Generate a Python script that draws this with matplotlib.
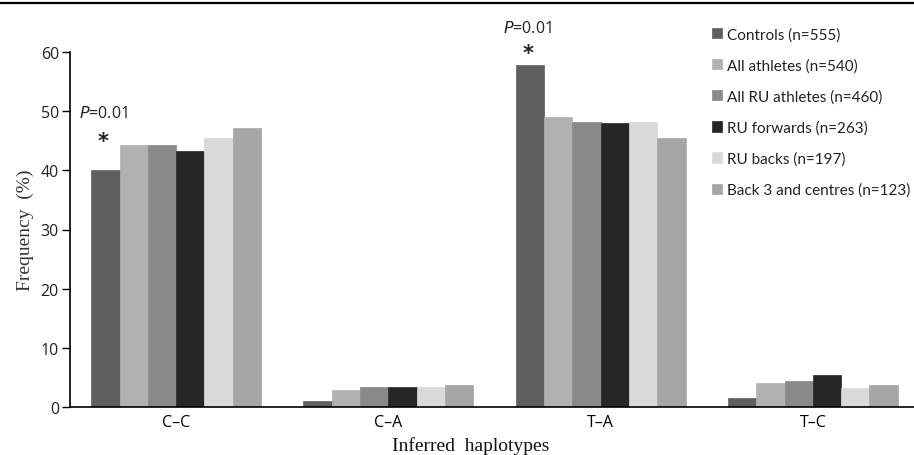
import matplotlib
matplotlib.use("Agg")
import matplotlib.pyplot as plt
import numpy as np
from matplotlib.lines import Line2D

haplotypes = ["C\u2013C", "C\u2013A", "T\u2013A", "T\u2013C"]

groups = [
	"Controls (n=555)",
	"All athletes (n=540)",
	"All RU athletes (n=460)",
	"RU forwards (n=263)",
	"RU backs (n=197)",
	"Back 3 and centres (n=123)",
]

controls = [40.0, 1.0, 57.8, 1.6]
all_athletes = [44.2, 2.95, 48.9, 4.05]
all_ru = [44.2, 3.45, 48.2, 4.45]
ru_forwards = [43.3, 3.45, 47.9, 5.45]
ru_backs = [45.5, 3.4, 48.2, 3.25]
back3_centres = [47.1, 3.7, 45.5, 3.7]

# p-value notes over the Controls bar: haplotype index, star height, text height
p_index = [0, 2]
p_star_y = [45.0, 59.7]
p_text_y = [49.6, 64.0]
p_text = "P=0.01"

colors = ["#5f5f5f", "#b1b1b1", "#898989", "#262626", "#d9d9d9", "#a6a6a6"]

series = [controls, all_athletes, all_ru, ru_forwards, ru_backs, back3_centres]

fig = plt.figure(figsize=(9.14, 4.56), dpi=100)
ax = fig.add_axes([70 / 914, 47.7 / 456, 849 / 914, 355.6 / 456])

x = np.arange(len(haplotypes))
bar_w = 0.8 / len(series)

for i, (vals, col, name) in enumerate(zip(series, colors, groups)):
	offs = (i - (len(series) - 1) / 2) * bar_w
	ax.bar(x + offs, vals, width=bar_w, color=col, label=name,
		edgecolor=col, linewidth=0.5)

ax.set_xlim(-0.5, 3.5)
ax.set_ylim(0, 60)
ax.set_yticks([0, 10, 20, 30, 40, 50, 60])
ax.set_xticks(x)
ax.set_xticklabels(haplotypes, fontfamily="Open Sans", fontsize=11.5)
for lab in ax.get_yticklabels():
	lab.set_fontfamily("Open Sans")
	lab.set_fontsize(11.5)
	lab.set_color("#222222")

ax.tick_params(axis="x", length=0, pad=5)
ax.tick_params(axis="y", length=6, width=1, direction="out", pad=2)
ax.spines["top"].set_visible(False)
ax.spines["right"].set_visible(False)
ax.spines["left"].set_linewidth(1.2)
ax.spines["bottom"].set_linewidth(1.2)

ax.set_ylabel("Frequency  (%)", fontfamily="Liberation Serif", fontsize=14,
	color="#333333", labelpad=5)
ax.set_xlabel("Inferred  haplotypes", fontfamily="Liberation Serif", fontsize=14,
	color="#111111")
ax.xaxis.set_label_coords(0.472, -0.08)

for idx, sy, ty in zip(p_index, p_star_y, p_text_y):
	xc = idx - (len(series) - 1) / 2 * bar_w
	ax.text(xc - 0.01, sy, "*", ha="center", va="center", fontsize=15,
		fontweight="bold", color="#222222", clip_on=False)
	ax.text(xc - 0.01, ty, r"$\mathit{P}$=0.01", ha="center", va="center",
		fontsize=11.5, fontfamily="Open Sans", color="#222222", clip_on=False)

leg = ax.legend(loc="upper left", bbox_to_anchor=(712 / 914, 1 - 28 / 456),
	bbox_transform=fig.transFigure, frameon=False, fontsize=11,
	handlelength=0.65, handleheight=0.65, handletextpad=0.3,
	labelspacing=1.1, borderaxespad=0, borderpad=0)
for t in leg.get_texts():
	t.set_fontfamily("Lato")
	t.set_color("#222222")

# rule across the top of the panel
fig.add_artist(Line2D([0, 1], [1 - 4 / 456, 1 - 4 / 456], transform=fig.transFigure,
	color="black", linewidth=1.6))

fig.savefig("out.png", dpi=100)
